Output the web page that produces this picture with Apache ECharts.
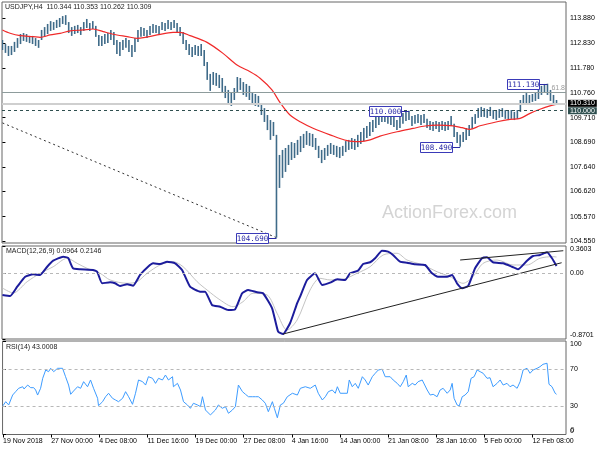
<!DOCTYPE html>
<html><head><meta charset="utf-8">
<script src="https://cdn.jsdelivr.net/npm/echarts@6/dist/echarts.min.js"></script>
<style>html,body{margin:0;padding:0;background:#fff}#c{width:600px;height:450px}</style>
</head><body><div id="c"></div>
<script>
// ---------- data ----------
const chartTitle = 'USDJPY,H4  110.344 110.353 110.262 110.309';
const macdTitle = 'MACD(12,26,9) 0.0964 0.2146';
const rsiTitle = 'RSI(14) 43.0008';
const timeLabels = ['19 Nov 2018','27 Nov 00:00','4 Dec 08:00','11 Dec 16:00','19 Dec 00:00','27 Dec 08:00','4 Jan 16:00','14 Jan 00:00','21 Jan 08:00','28 Jan 16:00','5 Feb 00:00','12 Feb 08:00'];
const timeLabelBars = [0,32,64,96,128,160,192,224,256,288,320,352];
const priceTicks = [104.55,105.57,106.62,107.64,108.69,109.71,110.76,111.78,112.83,113.88];
const macdTicks = [-0.8701,0,0.3603];
const rsiTicks = [0,30,70,100];

// one entry per two H4 bars (bar index = 2*k)
const barHigh = [
112.96,112.79,112.71,112.71,112.88,113.04,113.21,113.25,113.21,113.13,
113.13,113.04,112.96,113.38,113.50,113.63,113.75,113.71,113.80,113.88,
113.96,114.00,113.71,113.50,113.55,113.59,113.50,113.71,113.84,113.67,
113.75,113.55,113.17,113.13,113.21,113.25,113.38,113.29,112.96,112.88,
112.96,113.04,112.96,112.75,113.04,113.38,113.50,113.46,113.38,113.55,
113.63,113.59,113.55,113.71,113.67,113.80,113.71,113.80,113.67,113.50,
113.29,112.96,112.79,112.67,112.75,112.71,112.79,112.54,112.04,111.54,
111.62,111.58,111.50,111.37,111.04,110.87,110.78,110.95,111.41,111.37,
111.20,111.12,111.04,110.74,110.70,110.62,110.32,110.11,109.82,109.61,
109.53,108.99,108.15,108.36,108.44,108.57,108.69,108.65,108.78,108.94,
109.03,109.15,109.07,109.03,108.86,108.53,108.36,108.44,108.57,108.65,
108.57,108.53,108.48,108.53,108.73,108.78,108.86,108.82,108.99,109.11,
109.28,109.36,109.53,109.61,109.78,109.91,109.99,109.95,109.86,109.82,
109.74,109.61,109.78,109.91,109.99,110.00,109.78,109.82,109.86,109.82,
109.86,109.66,109.57,109.53,109.57,109.53,109.57,109.53,109.57,109.78,
109.45,109.11,108.99,109.11,109.28,109.40,109.74,109.86,110.11,110.16,
110.11,110.07,110.16,110.03,109.99,110.07,110.11,110.03,109.99,110.03,
109.95,110.03,110.45,110.66,110.74,110.66,110.70,110.78,110.91,111.04,
111.12,111.13,110.87,110.66,110.45];
const barLow = [
112.54,112.42,112.29,112.33,112.46,112.63,112.79,112.92,112.88,112.83,
112.79,112.71,112.63,112.96,113.09,113.21,113.34,113.38,113.46,113.50,
113.63,113.59,113.25,113.13,113.21,113.25,113.17,113.34,113.46,113.34,
113.42,113.09,112.71,112.71,112.79,112.83,112.96,112.75,112.37,112.29,
112.54,112.63,112.46,112.25,112.46,112.88,113.09,113.13,113.04,113.17,
113.25,113.25,113.21,113.38,113.34,113.42,113.38,113.46,113.25,113.13,
112.79,112.54,112.33,112.25,112.33,112.29,112.29,111.87,111.29,110.83,
111.08,111.04,110.95,110.78,110.53,110.28,110.20,110.45,110.78,110.87,
110.66,110.58,110.45,110.28,110.20,110.16,109.82,109.53,109.19,108.78,
108.94,104.69,106.77,107.19,107.44,107.73,107.94,108.02,108.15,108.27,
108.44,108.57,108.53,108.48,108.36,108.02,107.81,107.94,108.11,108.19,
108.15,108.06,108.02,108.11,108.27,108.36,108.40,108.36,108.48,108.61,
108.73,108.86,108.94,109.11,109.28,109.40,109.53,109.53,109.45,109.40,
109.32,109.19,109.28,109.45,109.57,109.61,109.36,109.45,109.49,109.40,
109.49,109.28,109.19,109.15,109.24,109.11,109.19,109.15,109.19,109.36,
108.90,108.65,108.49,108.69,108.78,108.94,109.24,109.45,109.70,109.74,
109.74,109.70,109.78,109.66,109.61,109.70,109.74,109.66,109.61,109.66,
109.61,109.66,109.95,110.24,110.32,110.28,110.37,110.41,110.49,110.66,
110.78,110.66,110.41,110.28,110.26];

const maLine = [[0,113.38],[5.1,113.24],[11.8,113.14],[20.4,113.10],[25,113.07],[31.7,113.17],[38.3,113.24],[45,113.34],[53.6,113.38],[60.2,113.42],[66.9,113.31],[73.5,113.20],[82.8,113.10],[89.4,113.03],[94.8,113.07],[102.7,113.17],[113.3,113.28],[118,113.28],[124.6,113.14],[135.9,112.86],[146.5,112.40],[155.8,111.91],[164.5,111.63],[171.1,111.36],[179,110.87],[184.4,110.34],[191,109.82],[197.7,109.54],[206.3,109.27],[217.6,108.99],[228.9,108.75],[237.5,108.71],[244.2,108.78],[250.8,108.94],[262.1,109.12],[272.7,109.26],[280.7,109.36],[288.6,109.40],[299.3,109.37],[305.3,109.29],[310.5,109.22],[317.2,109.37],[328.5,109.54],[337.1,109.64],[343.8,109.68],[350.4,109.89],[357,110.06],[363.6,110.20],[368.3,110.27]];

const macdMain = [[0,-0.288],[5.1,-0.301],[9.8,-0.178],[15.1,-0.046],[20.4,-0.014],[25,-0.023],[29.7,0.086],[33.7,0.166],[40.3,0.219],[43.6,0.202],[46.9,0.065],[51.6,0.052],[60.2,0.043],[62.9,0.020],[66.2,-0.133],[71.5,-0.120],[74.8,-0.133],[78.1,-0.169],[82.8,-0.146],[86.8,-0.165],[91.4,-0.023],[96.7,0.086],[100.1,0.131],[104.7,0.122],[109.4,0.152],[114.7,0.131],[119.3,0.043],[124.6,-0.178],[131.3,-0.244],[134.6,-0.244],[139.2,-0.420],[144.6,-0.443],[149.9,-0.486],[154.5,-0.477],[159.2,-0.265],[163.2,-0.222],[169.1,-0.252],[173.1,-0.265],[179.1,-0.464],[183.1,-0.773],[186.4,-0.804],[191,-0.662],[195.7,-0.398],[197.7,-0.310],[202.3,-0.089],[207.6,-0.001],[212.3,-0.155],[217.6,-0.125],[222.3,-0.080],[227.6,-0.089],[230.9,-0.001],[236.2,0.034],[239.5,0.122],[244.2,0.145],[247.5,0.198],[252.1,0.298],[256.1,0.285],[259.4,0.241],[264.1,0.152],[268.7,0.139],[274,0.118],[280.7,0.109],[285.3,-0.001],[289.3,-0.046],[295.3,-0.046],[298.6,-0.023],[301.9,-0.133],[305.3,-0.199],[309.3,-0.169],[313.9,0.065],[318.5,0.198],[321.8,0.211],[325.8,0.145],[332.5,0.131],[338.4,0.086],[342.4,0.052],[348.4,0.166],[352.4,0.228],[357,0.241],[361.7,0.277],[365,0.198],[368,0.0964]];

const macdSignal = [[0,-0.195],[7.1,-0.261],[16.4,-0.112],[25,-0.001],[33.7,0.086],[43,0.198],[49.6,0.131],[56.2,0.065],[64.9,-0.001],[71.5,-0.089],[82.8,-0.133],[89.4,-0.112],[96.1,-0.001],[104.7,0.109],[113.3,0.152],[120,0.086],[129.3,-0.112],[135.9,-0.222],[144.6,-0.354],[153.2,-0.443],[159.8,-0.376],[166.5,-0.265],[175.8,-0.288],[182.4,-0.530],[189,-0.751],[195.7,-0.619],[204.3,-0.222],[210.9,-0.067],[217.6,-0.089],[226.2,-0.080],[235.5,-0.001],[244.2,0.086],[252.8,0.241],[262.1,0.264],[268.7,0.175],[279.4,0.109],[288.6,0.020],[297.3,-0.046],[305.9,-0.133],[312.5,-0.046],[319.2,0.131],[328.5,0.175],[339.1,0.109],[348.4,0.109],[357,0.198],[365.7,0.219],[368,0.2146]];

const rsiLine = [[0,30.8],[1.8,35.1],[3.8,31.6],[5.1,30.8],[6.4,42.2],[8.4,45.8],[10.4,49.4],[13.1,51.1],[14,48.7],[16.4,52.9],[18.4,50.1],[20.4,50.1],[21.7,47.6],[23,42.2],[25,49.4],[26.4,60.1],[28.4,69.0],[30.3,67.2],[31.7,70.8],[33.7,67.2],[36.3,70.8],[37.6,72.5],[39.6,70.8],[41.6,61.8],[43.6,52.9],[45,43.0],[46.9,46.5],[49.6,51.1],[51.6,49.4],[53.6,56.5],[56.2,51.1],[58.2,58.3],[60.2,49.4],[62.9,38.7],[63.5,30.8],[66.2,35.1],[68.2,40.4],[70.2,44.1],[72.8,38.7],[74.8,36.9],[76.8,35.1],[79.5,38.7],[81.5,45.8],[83.5,40.4],[86.1,32.3],[88.1,44.1],[90.1,58.3],[92.8,56.5],[94.8,52.9],[96.7,61.8],[99.4,60.1],[101.4,54.7],[103.4,60.1],[106,58.3],[108,63.6],[110,58.3],[112.7,61.8],[113.3,51.1],[116,54.7],[118,47.6],[120,35.1],[122.6,31.6],[124.6,28.0],[126.6,33.4],[129.3,31.6],[131.3,29.8],[132.6,40.4],[134.6,26.2],[137.9,20.9],[141.2,26.2],[143.2,31.6],[145.8,28.0],[147.9,29.8],[149.9,22.7],[152.5,26.2],[154.5,29.8],[156.5,52.9],[159.2,45.8],[161.2,43.0],[163.2,40.4],[165.8,40.4],[167.8,40.4],[169.8,40.4],[172.4,36.9],[174.4,33.4],[176.4,24.4],[179.1,35.1],[180.4,28.0],[182.4,17.9],[184.4,31.6],[186.4,33.4],[189,40.4],[192.4,44.1],[195.7,42.2],[197.7,49.4],[201,51.1],[204.3,49.4],[207.6,52.9],[209.6,44.1],[212.3,36.9],[214.3,40.4],[216.3,45.8],[218.9,47.6],[220.9,44.1],[222.3,51.1],[224.2,44.1],[228.9,44.1],[230.2,58.3],[232.2,51.1],[234.2,54.7],[236.2,49.4],[238.9,61.8],[240.8,58.3],[242.8,52.9],[245.5,61.8],[247.5,65.5],[249.5,69.0],[252.1,69.8],[254.1,61.8],[257.4,61.8],[259.4,58.3],[262.1,54.7],[264.1,51.1],[266.1,56.5],[268.1,63.6],[269.4,51.1],[272.1,54.7],[274,52.9],[276,56.5],[278.7,58.3],[280,60.1],[282,47.6],[284,42.2],[286,43.0],[288.6,40.4],[290.6,47.6],[292.6,49.4],[295.3,44.1],[297.3,47.6],[298.6,54.7],[299.9,38.7],[301.9,31.6],[303.3,30.5],[305.3,40.4],[307.2,42.2],[309.3,45.8],[311.2,60.1],[313.2,61.8],[315.2,69.0],[317.2,67.2],[319.2,65.5],[321.8,60.1],[323.8,60.7],[325.8,51.1],[328.5,54.7],[330.5,58.3],[332.5,52.9],[335.1,54.7],[337.1,51.1],[339.1,52.9],[341.8,49.4],[343.8,56.5],[345.8,69.0],[348.4,70.8],[350.4,65.5],[352.4,69.0],[355.1,70.8],[357,72.5],[359,75.1],[361.7,76.2],[363,53.7],[365,51.1],[367.1,44.1],[368,43.0]];

// annotations
const priceLabelBars = [362,270,304,182];
const priceLabelValues = [111.13,110.00,108.49,104.69];
const fibLine = [[0,109.49],[182,104.69]];
const fibLevel = 110.78, fibText = '61.8';
const bidPrice = 110.309;
const roundLevel = 110.00;
const macdTrendLow = [[186.4,-0.804],[371.4,0.139]];
const macdTrendHigh = [[304,0.175],[372.5,0.298]];
const rsiLevels = [30,70];

// ---------- chart ----------
const FONT = '"Liberation Sans", Arial, sans-serif';
const X_MAX = 374.3;
const chart = echarts.init(document.getElementById('c'), null, {renderer:'canvas'});
const grids = [
  {left:2, right:34, top:2, height:241},
  {left:2, right:34, top:246, height:93},
  {left:2, right:34, top:341, height:93.5}
].map(g => Object.assign(g, {show:true, borderColor:'#666', borderWidth:1, containLabel:false}));

const xAx = (gi, showLabels) => ({
  type:'value', gridIndex:gi, min:-0.3, max:X_MAX,
  splitLine:{show:false}, axisLine:{show:false},
  axisTick:{show:showLabels, length:3, lineStyle:{color:'#000'}, customValues:timeLabelBars},
  axisLabel:{show:showLabels, customValues:timeLabelBars, align:'left', margin:3, fontSize:7, fontFamily:FONT, color:'#000',
    hideOverlap:false,
    formatter:v => { const j = timeLabelBars.indexOf(Math.round(v)); return j>=0 ? timeLabels[j] : ''; }}
});
const yAx = (gi, min, max, ticks, fmt, extra) => ({
  type:'value', gridIndex:gi, position:'right', min:min, max:max,
  splitLine:{show:false}, axisLine:{show:false},
  axisTick:{show:true, length:3, lineStyle:{color:'#000'}, customValues:ticks},
  axisLabel:Object.assign({customValues:ticks, margin:4, fontSize:7, fontFamily:FONT, color:'#000',
    showMinLabel:true, showMaxLabel:true, hideOverlap:false, formatter:fmt}, extra||{})
});

const option = {
  animation:false,
  backgroundColor:'#fff',
  grid:grids,
  xAxis:[xAx(0,false), xAx(1,false), xAx(2,true)],
  yAxis:[
    yAx(0, 104.466, 114.549, priceTicks, v => v.toFixed(3)),
    yAx(1, -0.8701, 0.3603, macdTicks, v => v === 0 ? '0.00' : v.toFixed(4), {verticalAlignMinLabel:'bottom', verticalAlignMaxLabel:'top'}),
    yAx(2, 0, 100, rsiTicks, v => String(v), {verticalAlignMinLabel:'bottom', verticalAlignMaxLabel:'top'})
  ],
  graphic:[
    {type:'text', left:382, top:204, z:0, silent:true, style:{text:'ActionForex.com', font:'18px '+FONT, fill:'#d4d4d4'}},
    {type:'text', left:5, top:4, z:100, style:{text:chartTitle, font:'7px '+FONT, fill:'#222'}},
    {type:'text', left:6, top:248, z:100, style:{text:macdTitle, font:'7px '+FONT, fill:'#222'}},
    {type:'text', left:6, top:344, z:100, style:{text:rsiTitle, font:'7px '+FONT, fill:'#222'}}
  ],
  series:[
    {type:'line', xAxisIndex:0, yAxisIndex:0, data:[], z:1, silent:true,
     markLine:{symbol:'none', silent:true, animation:false, data:[
       {yAxis:fibLevel, lineStyle:{color:'#8e9c9c', width:1, type:'solid'},
        label:{show:true, position:'insideEndTop', formatter:fibText, color:'#9a9a9a', fontSize:7, fontFamily:FONT, distance:[1,1]}},
       {yAxis:bidPrice, lineStyle:{color:'#cfcfcf', width:2, type:'solid'},
        label:{show:true, position:'end', distance:2, formatter:p => p.value.toFixed(3), color:'#fff', backgroundColor:'#000', padding:[0,2,0,2], fontSize:7, fontFamily:FONT}},
       {yAxis:roundLevel, lineStyle:{color:'#2f4f4f', width:1, type:[3,3]},
        label:{show:true, position:'end', distance:2, formatter:p => p.value.toFixed(3), color:'#fff', backgroundColor:'#2f4f4f', padding:[0,2,0,2], fontSize:7, fontFamily:FONT}}
     ]}},
    {type:'line', xAxisIndex:0, yAxisIndex:0, data:fibLine, symbol:'none', z:2, silent:true,
     lineStyle:{color:'#333', width:1, type:[2,3]}},
    {type:'custom', xAxisIndex:0, yAxisIndex:0, clip:true, z:3, silent:true,
     data: barHigh.map((h,k) => [2*k, barLow[k], h]),
     encode:{x:0, y:[1,2]},
     renderItem:(params, api) => {
       const x = api.value(0);
       const a = api.coord([x, api.value(2)]), b = api.coord([x, api.value(1)]);
       return {type:'rect', shape:{x:a[0]-0.8, y:a[1], width:1.6, height:Math.max(1, b[1]-a[1])}, style:{fill:'#3f6b89'}};
     }},
    {type:'line', xAxisIndex:0, yAxisIndex:0, data:maLine, symbol:'none', smooth:0.3, z:4, silent:true,
     lineStyle:{color:'#f02a2a', width:1.2}},
    {type:'custom', xAxisIndex:0, yAxisIndex:0, z:5, silent:true,
     data: priceLabelBars.map((b,i) => [b, priceLabelValues[i]]),
     renderItem:(params, api) => {
       const p = api.coord([api.value(0), api.value(1)]);
       const y = Math.round(p[1]) + 0.5;
       const right = Math.round(p[0]) - 8, w = 32, h = 10;
       return {type:'group', children:[
         {type:'line', shape:{x1:right, y1:y, x2:p[0], y2:y}, style:{stroke:'#2b2ba6', lineWidth:1}},
         {type:'rect', shape:{x:right-w+0.5, y:y-5, width:w, height:h}, style:{fill:'#fff', stroke:'#3a3ab8', lineWidth:1}},
         {type:'text', style:{x:right-w/2+0.5, y:y+0.5, text:api.value(1).toFixed(3), align:'center', verticalAlign:'middle', fill:'#2b2ba6', font:'7.5px "DejaVu Sans Mono", monospace'}}
       ]};
     }},
    {type:'line', xAxisIndex:1, yAxisIndex:1, data:macdSignal, symbol:'none', smooth:0.3, z:2, silent:true,
     lineStyle:{color:'#c4c4c4', width:1},
     markLine:{symbol:'none', silent:true, animation:false, label:{show:false},
       data:[{yAxis:0, lineStyle:{color:'#b8b8b8', width:1, type:[3,3]}}]}},
    {type:'line', xAxisIndex:1, yAxisIndex:1, data:macdMain, symbol:'none', smooth:0.15, z:3, silent:true,
     lineStyle:{color:'#1c1c9c', width:2}},
    {type:'line', xAxisIndex:1, yAxisIndex:1, data:macdTrendLow, symbol:'none', z:4, silent:true,
     lineStyle:{color:'#222', width:1}},
    {type:'line', xAxisIndex:1, yAxisIndex:1, data:macdTrendHigh, symbol:'none', z:4, silent:true,
     lineStyle:{color:'#222', width:1}},
    {type:'line', xAxisIndex:2, yAxisIndex:2, data:rsiLine, symbol:'none', z:3, silent:true,
     lineStyle:{color:'#3d9cff', width:1},
     markLine:{symbol:'none', silent:true, animation:false, label:{show:false},
       data: rsiLevels.map(v => ({yAxis:v, lineStyle:{color:'#b8b8b8', width:1, type:[3,3]}}))}},
    // RSI axis bottom value label (the library hides it at the corner)
    {type:'scatter', xAxisIndex:2, yAxisIndex:2, clip:false, silent:true, z:10,
     data:[[X_MAX, rsiTicks[0]]], symbolSize:1, itemStyle:{color:'rgba(0,0,0,0)'},
     label:{show:true, position:'right', distance:4, offset:[0,-4], formatter:p => String(p.value[1]),
       fontSize:7, fontFamily:FONT, color:'#000'}}
  ]
};
chart.setOption(option);
</script></body></html>
